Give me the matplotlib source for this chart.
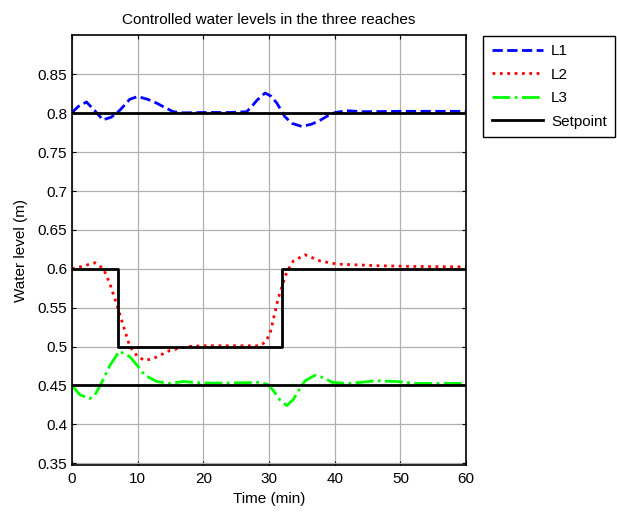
import matplotlib
matplotlib.use('Agg')
import matplotlib.pyplot as plt

plt.rcParams['font.family'] = ['Liberation Sans', 'DejaVu Sans']

# water level in reach 1
t1 = [0, 1, 2.2, 3.5, 4.7, 6, 7.3, 8.8, 10, 11.5, 12.9, 14, 15.4, 17, 20, 24,
      26.6, 27.5, 28.2, 29.4, 30.3, 31.2, 32.4, 33.5, 35, 36.5, 37.8, 39,
      40.1, 41.8, 44.3, 50, 60]
l1 = [0.801, 0.809, 0.8145, 0.803, 0.7915, 0.795, 0.804, 0.818, 0.8215, 0.818,
      0.813, 0.808, 0.802, 0.8005, 0.801, 0.801, 0.802, 0.81, 0.817, 0.826,
      0.822, 0.813, 0.7957, 0.787, 0.783, 0.786, 0.791, 0.797, 0.801, 0.8033,
      0.802, 0.8025, 0.8025]

# water level in reach 2
t2 = [0, 1.5, 3.5, 4.8, 5.8, 7, 8.1, 8.8, 10, 11.1, 12.5, 14.9, 17.5, 20, 25,
      28.6, 29.5, 30.2, 31.4, 32.7, 33.7, 35.5, 37.8, 40.4, 46.4, 52, 60]
l2 = [0.6, 0.603, 0.6077, 0.60, 0.58, 0.549, 0.519, 0.5, 0.487, 0.482, 0.485,
      0.495, 0.5, 0.501, 0.501, 0.501, 0.506, 0.518, 0.562, 0.596, 0.61,
      0.618, 0.61, 0.606, 0.604, 0.603, 0.6025]

# water level in reach 3
t3 = [0, 1.2, 2.7, 3.5, 4.3, 5.8, 7.2, 8.8, 10, 11.1, 12.9, 14.9, 16.9, 20, 24,
      28.6, 29.8, 30.6, 31.6, 32.7, 33.7, 34.7, 35.5, 37, 38.3, 39.6, 41.9,
      44, 46.4, 49.5, 52.5, 56, 60]
l3 = [0.45, 0.438, 0.433, 0.438, 0.45, 0.476, 0.494, 0.487, 0.475, 0.463,
      0.455, 0.4525, 0.455, 0.453, 0.453, 0.454, 0.451, 0.444, 0.432, 0.424,
      0.432, 0.446, 0.456, 0.463, 0.46, 0.454, 0.4525, 0.454, 0.456, 0.455,
      0.4525, 0.4525, 0.4525]

# setpoints
sp_t = [0, 7, 7, 32, 32, 60]
sp2 = [0.6, 0.6, 0.5, 0.5, 0.6, 0.6]
sp1 = 0.8
sp3 = 0.45

xticks = [0, 10, 20, 30, 40, 50, 60]
yticks = [0.35, 0.4, 0.45, 0.5, 0.55, 0.6, 0.65, 0.7, 0.75, 0.8, 0.85]

fig = plt.figure(figsize=(6.17, 5.13), dpi=100)
ax = fig.add_axes([0.1167, 0.0926, 0.6386, 0.8382])

ax.plot(t1, l1, c=(0, 0, 1), ls='--', lw=2, label='L1')
ax.plot(t2, l2, c=(1, 0, 0), ls=':', lw=2, label='L2')
ax.plot(t3, l3, c=(0, 1, 0), ls='-.', lw=2, label='L3')
ax.plot([0, 60], [sp1, sp1], c='k', lw=2, label='Setpoint')
ax.plot(sp_t, sp2, c='k', lw=2)
ax.plot([0, 60], [sp3, sp3], c='k', lw=2)

ax.set_xlim(0, 60)
ax.set_ylim(0.347, 0.9)
ax.set_xticks(xticks)
ax.set_yticks(yticks)
ax.set_yticklabels([('%g' % v) for v in yticks])
ax.tick_params(direction='in', top=True, right=True, labelsize=11, length=3)
ax.tick_params(axis='x', pad=5)
ax.grid(True, color='#b0b0b0', lw=0.9)
for s in ax.spines.values():
    s.set_linewidth(1.2)

ax.set_title('Controlled water levels in the three reaches', fontsize=11, pad=8)
ax.set_xlabel('Time (min)', fontsize=11, labelpad=4)
ax.set_ylabel('Water level (m)', fontsize=11, labelpad=7)

leg = ax.legend(loc='upper left', bbox_to_anchor=(0.783, 0.93),
                bbox_transform=fig.transFigure, fontsize=11, handlelength=3.4,
                labelspacing=0.62, fancybox=False, edgecolor='k',
                borderaxespad=0, borderpad=0.55, handletextpad=0.5,
                framealpha=1)
leg.get_frame().set_linewidth(1.0)

fig.savefig('out.png', dpi=100)
